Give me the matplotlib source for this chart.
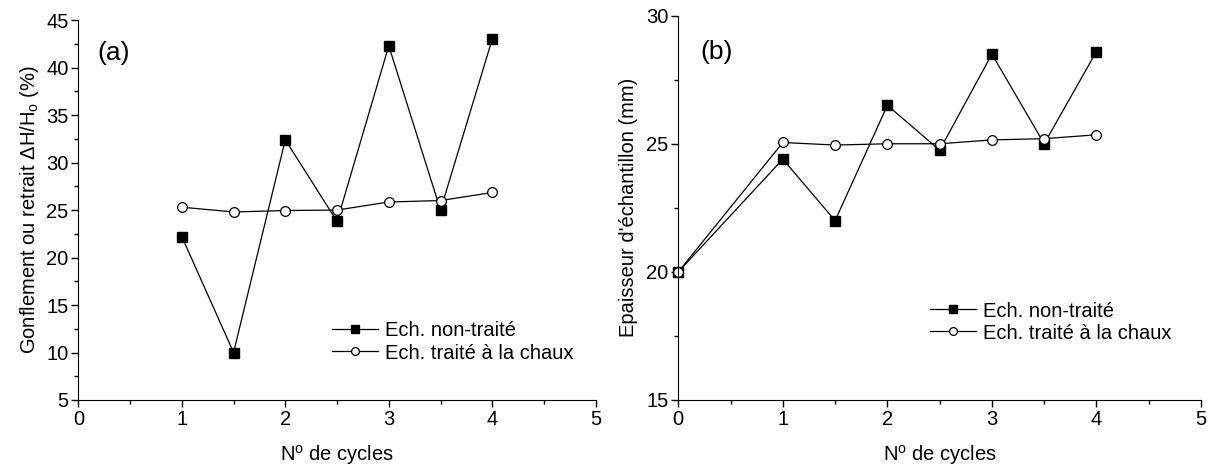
import matplotlib
matplotlib.use("Agg")
import matplotlib.pyplot as plt
from matplotlib.ticker import MultipleLocator

plt.rcParams['font.family'] = ['Liberation Sans', 'DejaVu Sans']
plt.rcParams['mathtext.fontset'] = 'custom'
plt.rcParams['mathtext.rm'] = 'Liberation Sans'
plt.rcParams['mathtext.it'] = 'Liberation Sans'

# (a) Gonflement / retrait
cycles_a = [1, 1.5, 2, 2.5, 3, 3.5, 4]
gonf_non_traite = [22.2, 10.0, 32.4, 23.8, 42.3, 25.0, 43.0]
gonf_traite = [25.3, 24.8, 24.95, 25.0, 25.85, 26.0, 26.85]

# (b) Epaisseur
cycles_b = [0, 1, 1.5, 2, 2.5, 3, 3.5, 4]
ep_non_traite = [20.0, 24.4, 22.0, 26.5, 24.75, 28.5, 25.0, 28.6]
ep_traite = [20.0, 25.05, 24.95, 25.0, 25.0, 25.15, 25.2, 25.35]

labels = ["Ech. non-traité", "Ech. traité à la chaux"]

FS = 14.5

fig = plt.figure(figsize=(12.13, 4.76), dpi=100)
ax1 = fig.add_axes([0.0646, 0.1597, 0.4265, 0.798])
ax2 = fig.add_axes([0.5592, 0.1597, 0.4309, 0.8074])


def style(ax, ylim, ymaj, ymin):
    ax.set_xlim(0, 5)
    ax.set_ylim(*ylim)
    ax.xaxis.set_major_locator(MultipleLocator(1))
    ax.xaxis.set_minor_locator(MultipleLocator(0.5))
    ax.yaxis.set_major_locator(MultipleLocator(ymaj))
    ax.yaxis.set_minor_locator(MultipleLocator(ymin))
    for s in ["top", "right"]:
        ax.spines[s].set_visible(False)
    ax.tick_params(which="major", direction="out", length=5, width=1,
                   labelsize=FS, pad=2)
    ax.tick_params(which="minor", direction="out", length=3, width=1)
    ax.set_xlabel("N$^{o}$ de cycles", fontsize=FS, labelpad=10)


def plot_series(ax, x, y1, y2):
    ax.plot(x, y1, color="black", lw=0.9, marker="s", ms=6.5,
            mfc="black", mec="black", label=labels[0], clip_on=False)
    ax.plot(x, y2, color="black", lw=0.9, marker="o", ms=7,
            mfc="white", mec="black", mew=0.9, label=labels[1], clip_on=False)


def add_legend(ax, x, y):
    ax.legend(loc="center left", bbox_to_anchor=(x, y),
              bbox_transform=fig.transFigure, frameon=False, fontsize=FS,
              handlelength=2.3, handletextpad=0.35, labelspacing=0.15,
              borderpad=0, borderaxespad=0, markerscale=0.8)


plot_series(ax1, cycles_a, gonf_non_traite, gonf_traite)
style(ax1, (5, 45), 5, 2.5)
ax1.set_ylabel("Gonflement ou retrait $\\Delta$H/H$_{o}$ (%)", fontsize=FS,
               labelpad=4)
ax1.text(0.18, 41.5, "(a)", fontsize=19, va="center")
add_legend(ax1, 0.2735, 0.2815)

plot_series(ax2, cycles_b, ep_non_traite, ep_traite)
style(ax2, (15, 30), 5, 2.5)
ax2.set_ylabel("Epaisseur d'échantillon (mm)", fontsize=FS, labelpad=6)
ax2.text(0.21, 28.58, "(b)", fontsize=19, va="center")
add_legend(ax2, 0.7667, 0.3235)

fig.savefig("out.png", dpi=100)
